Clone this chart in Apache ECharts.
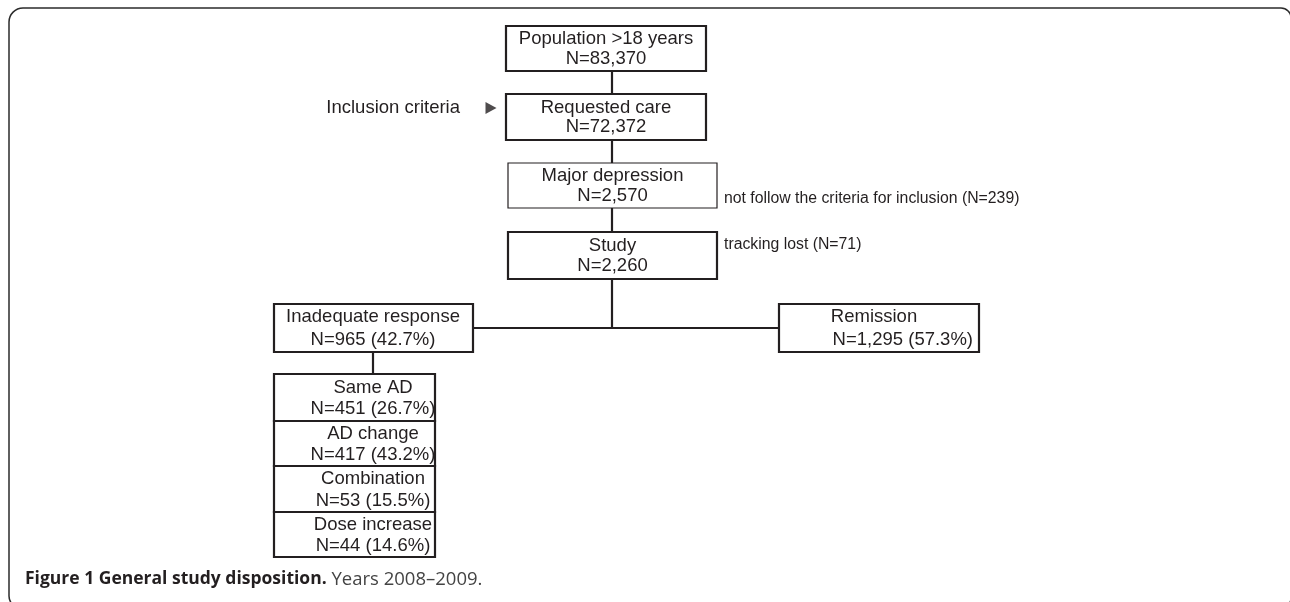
<!DOCTYPE html>
<html>
<head>
<meta charset="utf-8">
<script src="https://cdn.jsdelivr.net/npm/echarts@6/dist/echarts.min.js"></script>
<style>
html, body { margin: 0; padding: 0; background: #fff; }
#chart { width: 1290px; height: 602px; }
</style>
</head>
<body>
<div id="chart"></div>
<script>
// flow stages (main column)
let stageLabels = ["Population >18 years", "Requested care", "Major depression", "Study"];
let stageN = [83370, 72372, 2570, 2260];

// outcome split
let outcomeLabels = ["Inadequate response", "Remission"];
let outcomeN = [965, 1295];
let outcomePct = [42.7, 57.3];

// strategies after inadequate response
let strategyLabels = ["Same AD", "AD change", "Combination", "Dose increase"];
let strategyN = [451, 417, 53, 44];
let strategyPct = [26.7, 43.2, 15.5, 14.6];

// side notes
let noteLabels = ["Inclusion criteria", "not follow the criteria for inclusion", "tracking lost"];
let excludedN = [239, 71];

let captionBold = "Figure 1 General study disposition.";
let captionRest = " Years 2008\u20132009.";

// layout, in page units (axes map 1:1 to the canvas)
let stageRects = [[506, 26, 706, 71], [506, 94, 706, 140], [508, 163, 717, 208], [508, 232, 717, 279]];
let stageLineW = [2.2, 2.2, 1.2, 2.2];
let outcomeRects = [[274, 304, 473, 352], [779, 304, 979, 352]];
let strategyX = [274, 435];
let strategyEdges = [374, 421, 466, 512, 557];
let stemX = 612, splitY = 328, subStemX = 373;

const INK = "#231f20";
const BOX_FONT = "18.5px 'Liberation Sans', Arial, sans-serif";
const NOTE_FONT = "15.8px 'Liberation Sans', Arial, sans-serif";

function fmt(n) { return n.toLocaleString("en-US"); }

// build boxes from the arrays above
let boxes = [];
stageLabels.forEach(function (lab, i) {
    let r = stageRects[i], cx = (r[0] + r[2]) / 2, cy = (r[1] + r[3]) / 2;
    boxes.push({ r: r, lw: stageLineW[i], lines: [
        { t: lab, x: cx, y: cy - 9.5, a: "center" },
        { t: "N=" + fmt(stageN[i]), x: cx, y: cy + 10, a: "center" }
    ]});
});
// inadequate response / remission
(function () {
    let r = outcomeRects[0], cy = (r[1] + r[3]) / 2;
    boxes.push({ r: r, lw: 2.2, lines: [
        { t: outcomeLabels[0], x: subStemX, y: cy - 11, a: "center" },
        { t: "N=" + fmt(outcomeN[0]) + " (" + outcomePct[0] + "%)", x: subStemX, y: cy + 12, a: "center" }
    ]});
    r = outcomeRects[1]; cy = (r[1] + r[3]) / 2;
    boxes.push({ r: r, lw: 2.2, lines: [
        { t: outcomeLabels[1], x: 874, y: cy - 11, a: "center" },
        { t: "N=" + fmt(outcomeN[1]) + " (" + outcomePct[1] + "%)", x: 973, y: cy + 12, a: "right" }
    ]});
})();
strategyLabels.forEach(function (lab, i) {
    let y0 = strategyEdges[i], y1 = strategyEdges[i + 1], cy = (y0 + y1) / 2;
    boxes.push({ r: [strategyX[0], y0, strategyX[1], y1], lw: 2.2, lines: [
        { t: lab, x: subStemX, y: cy - 10, a: "center" },
        { t: "N=" + fmt(strategyN[i]) + " (" + strategyPct[i] + "%)", x: subStemX, y: cy + 11.5, a: "center" }
    ]});
});

let connectors = [
    [[stemX, stageRects[0][3]], [stemX, stageRects[1][1]]],
    [[stemX, stageRects[1][3]], [stemX, stageRects[2][1]]],
    [[stemX, stageRects[2][3]], [stemX, stageRects[3][1]]],
    [[stemX, stageRects[3][3]], [stemX, splitY]],
    [[outcomeRects[0][2], splitY], [outcomeRects[1][0], splitY]],
    [[subStemX, outcomeRects[0][3]], [subStemX, strategyEdges[0]]]
];

let notes = [
    { t: noteLabels[0], x: 460, y: 108, a: "right", font: BOX_FONT },
    { t: noteLabels[1] + " (N=" + excludedN[0] + ")", x: 724, y: 199, a: "left", font: NOTE_FONT },
    { t: noteLabels[2] + " (N=" + excludedN[1] + ")", x: 724, y: 245, a: "left", font: NOTE_FONT }
];

let chart = echarts.init(document.getElementById("chart"));

chart.setOption({
    animation: false,
    backgroundColor: "#fff",
    grid: { left: 0, right: 0, top: 0, bottom: 0 },
    xAxis: { type: "value", min: 0, max: 1290, show: false },
    yAxis: { type: "value", min: 0, max: 602, inverse: true, show: false },
    title: {
        left: 25, top: 570, padding: 0,
        text: "{b|" + captionBold + "}{n|" + captionRest + "}",
        textStyle: {
            rich: {
                b: { fontFamily: "'Open Sans', sans-serif", fontWeight: "bold", fontSize: 17.5, color: INK },
                n: { fontFamily: "'Open Sans', sans-serif", fontWeight: "normal", fontSize: 18.5, color: "#444" }
            }
        }
    },
    // figure frame: rounded, runs off the right and bottom edges
    graphic: [{
        type: "rect",
        silent: true,
        shape: { x: 9, y: 8, width: 1282, height: 600, r: [14, 10, 10, 12] },
        style: { fill: "none", stroke: "#2b2b2b", lineWidth: 1.5 }
    }],
    series: [
        {
            type: "lines",
            coordinateSystem: "cartesian2d",
            silent: true,
            lineStyle: { color: INK, width: 2.2, opacity: 1 },
            data: connectors.map(function (c) { return { coords: c }; })
        },
        {
            type: "custom",
            silent: true,
            data: boxes.map(function (b, i) { return [i]; }),
            renderItem: function (params, api) {
                let b = boxes[params.dataIndex];
                let p0 = api.coord([b.r[0], b.r[1]]);
                let p1 = api.coord([b.r[2], b.r[3]]);
                let children = [{
                    type: "rect",
                    shape: { x: p0[0], y: p0[1], width: p1[0] - p0[0], height: p1[1] - p0[1] },
                    style: { fill: "#fff", stroke: INK, lineWidth: b.lw }
                }];
                b.lines.forEach(function (ln) {
                    let p = api.coord([ln.x, ln.y]);
                    children.push({
                        type: "text", x: p[0], y: p[1],
                        style: { text: ln.t, font: BOX_FONT, fill: INK, align: ln.a, verticalAlign: "middle" }
                    });
                });
                return { type: "group", children: children };
            }
        },
        {
            type: "custom",
            silent: true,
            data: notes.map(function (n, i) { return [i]; }),
            renderItem: function (params, api) {
                let n = notes[params.dataIndex];
                let p = api.coord([n.x, n.y]);
                return {
                    type: "text", x: p[0], y: p[1],
                    style: { text: n.t, font: n.font, fill: INK, align: n.a, verticalAlign: "middle" }
                };
            }
        },
        {
            // arrow pointing at the inclusion step
            type: "scatter",
            silent: true,
            symbol: "triangle",
            symbolSize: [12, 11],
            symbolRotate: -90,
            itemStyle: { color: INK },
            data: [[491, 108]]
        }
    ]
});
</script>
</body>
</html>
